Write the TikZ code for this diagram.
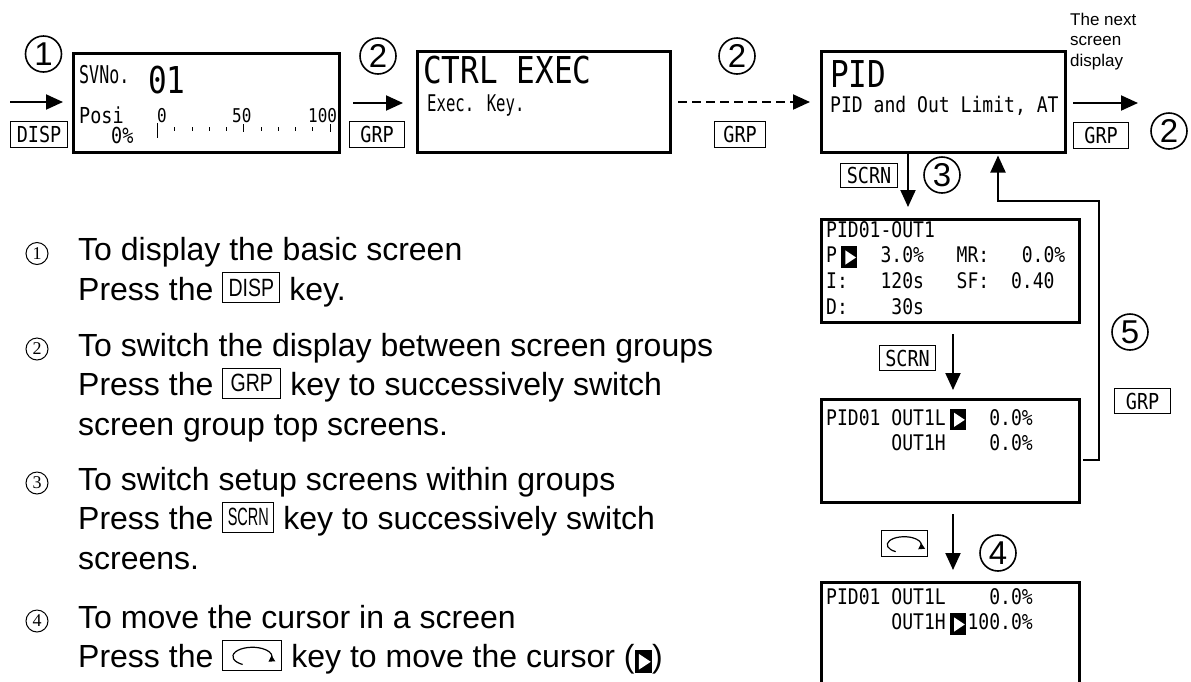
\documentclass[tikz,border=0pt]{standalone}
\usepackage{fontspec}
\setmainfont{Liberation Sans}
\newfontfamily\lcdfont[FakeStretch=0.84]{DejaVu Sans Mono}
\newfontfamily\lcdnarrow[FakeStretch=0.68]{DejaVu Sans Mono}
\newfontfamily\keyfont[FakeStretch=0.78]{Liberation Sans}
\newfontfamily\keynarrow[FakeStretch=0.58]{Liberation Sans}
\newfontfamily\numfont{Liberation Serif}
\usepackage{tikz}
\usetikzlibrary{positioning,arrows.meta,calc}

% cursor mark, loop key icon and framed key in running text
\newcommand\curglyph[1][1]{\tikz[baseline=0pt,x=1pt,y=1pt,scale=#1]{\fill[black] (0,-5) rectangle (16,16.5); \fill[white] (4,-1.7) -- (14.7,5.4) -- (4,12.5) -- cycle;}}
\newcommand\curs{\makebox[21.7pt][r]{\curglyph\hspace{1.4pt}}}
\newcommand\loopicon[1][1]{\tikz[baseline=0pt,x=1pt,y=1pt,scale=#1,line width=1.2pt]{\draw[-{Triangle[length=6pt,width=6.5pt]}] (240:17 and 8) arc[start angle=240,end angle=-35,x radius=17,y radius=8];}}
\newcommand\tkey[2][56pt]{{\setlength\fboxsep{0pt}\setlength\fboxrule{1.1pt}\raisebox{-2pt}{\fbox{\parbox[b][29pt][c]{#1}{\centering\keyfont\fontsize{25}{25}\selectfont #2}}}}}

\tikzset{
  screen/.style={draw, line width=3pt, inner sep=0pt, anchor=north west},
  keybox/.style={draw, line width=1.2pt, inner sep=0pt, anchor=north west, minimum height=26pt, font=\lcdfont\fontsize{22}{22}\selectfont},
  bignum/.style={circle, draw, line width=1.6pt, minimum size=36pt, inner sep=0pt, font=\fontsize{33}{33}\selectfont},
  itemnum/.style={circle, draw, line width=1pt, minimum size=22pt, inner sep=0pt, font=\numfont\fontsize{18}{18}\selectfont},
  itemtext/.style={anchor=north west, inner sep=0pt, align=left, font=\fontsize{32}{39.5}\selectfont},
  lcd/.style={anchor=north west, inner sep=0pt, align=left, font=\lcdfont\fontsize{21.5}{25.7}\selectfont},
  lcdlbl/.style={anchor=base west, inner sep=0pt},
  flow/.style={line width=2pt, -{Triangle[length=17pt,width=15pt]}},
}

\begin{document}
\begin{tikzpicture}[x=1pt,y=-1pt]
  \clip (0,0) rectangle (1191,681);
  \fill[white] (0,0) rectangle (1191,681);

  % top row of screens
  \node[screen, minimum width=266pt, minimum height=99pt] (basic) at (72,52) {};
  \node[lcdlbl, font=\lcdnarrow\fontsize{24.5}{24.5}\selectfont] (svlbl) at (79,83) {SVNo.};
  \node[lcdlbl, font=\lcdfont\fontsize{37}{37}\selectfont] (svval) at (148,93) {01};
  \node[lcdlbl, font=\lcdfont\fontsize{22}{22}\selectfont] (posi) at (79,123) {Posi};
  \node[lcdlbl, font=\lcdfont\fontsize{22}{22}\selectfont] (posv) at (111,143) {0\%};
  \node[lcdlbl, font=\lcdfont\fontsize{19}{19}\selectfont] (sc0) at (157,122) {0};
  \node[lcdlbl, font=\lcdfont\fontsize{19}{19}\selectfont] (sc50) at (232,122) {50};
  \node[lcdlbl, font=\lcdfont\fontsize{19}{19}\selectfont] (sc100) at (308,122) {100};
  \foreach \i in {1,...,9} \draw[line width=1pt] ({157.5+17.25*\i},127) -- ({157.5+17.25*\i},131);
  \foreach \i in {5,10} \draw[line width=1pt] ({157.5+17.25*\i},124) -- ({157.5+17.25*\i},131.5);
  \draw[line width=1pt] (157.5,123) -- (157.5,138);

  \node[screen, minimum width=253pt, minimum height=101pt] (exec) at (416,50) {};
  \node[lcdlbl, font=\lcdfont\fontsize{37}{37}\selectfont] (exectitle) at (423,83) {CTRL EXEC};
  \node[lcdlbl, font=\lcdnarrow\fontsize{23}{23}\selectfont] (execsub) at (427,111) {Exec. Key.};

  \node[screen, minimum width=244pt, minimum height=101pt] (pidtop) at (820,50) {};
  \node[lcdlbl, font=\lcdfont\fontsize{37}{37}\selectfont] (pidtitle) at (830,87) {PID};
  \node[lcdlbl, font=\lcdfont\fontsize{21.5}{21.5}\selectfont] (pidsub) at (830,112) {PID and Out Limit, AT};

  % setup screens of the PID group
  \node[screen, minimum width=258pt, minimum height=103pt] (pidout) at (820,218) {};
  \node[lcd] (pidouttxt) at (826,219) {\rule{0pt}{18pt}PID01-OUT1\\P\curs~~3.0\%~~~MR:~~~0.0\%\\I:~~~120s~~~SF:~~0.40\\D:~~~~30s};
  \node[screen, minimum width=258pt, minimum height=103pt] (limit) at (820,398) {};
  \node[lcd] (limittxt) at (826,407) {\rule{0pt}{18pt}PID01~OUT1L\curs~~0.0\%\\~~~~~~OUT1H~~~~0.0\%};
  \node[screen, minimum width=258pt, minimum height=110pt] (limit2) at (820,581) {};
  \node[lcd] (limit2txt) at (826,586) {\rule{0pt}{18pt}PID01~OUT1L~~~~0.0\%\\~~~~~~OUT1H\curs100.0\%};

  % keys
  \node[keybox, minimum width=57pt] (kdisp) at (10,121) {DISP};
  \node[keybox, minimum width=55pt] (kgrpa) at (349,121) {GRP};
  \node[keybox, minimum width=51pt] (kgrpb) at (714,121) {GRP};
  \node[keybox, minimum width=55pt] (kgrpc) at (1073,122) {GRP};
  \node[keybox, minimum width=57pt, minimum height=24pt] (kscrna) at (840,163) {SCRN};
  \node[keybox, minimum width=56pt, minimum height=25pt] (kscrnb) at (879,345) {SCRN};
  \node[keybox, minimum width=56pt, minimum height=25pt] (kgrpd) at (1114,388) {GRP};
  \node[keybox, minimum width=46pt] (kloop) at (881,530) {\loopicon};

  \node[bignum] (s1) at (43.5,54) {1};
  \node[bignum] (s2a) at (378,56) {2};
  \node[bignum] (s2b) at (737,56) {2};
  \node[bignum] (s2c) at (1169,131) {2};
  \node[bignum] (s3) at (942,175) {3};
  \node[bignum] (s4) at (998,553) {4};
  \node[bignum] (s5) at (1130,332) {5};

  \node[anchor=north west, inner sep=0pt, align=left, font=\fontsize{17}{20.5}\selectfont] (nexttxt) at (1070,12) {\rule{0pt}{13pt}The next\\screen\\display};

  % connectors
  \coordinate (start) at (10,102);
  \draw[flow, shorten >=9pt] (start) -- (start -| basic.west);
  \draw[flow, shorten <=12pt, shorten >=13pt] (basic.east) -- (basic.east -| exec.west);
  \draw[flow, dashed, dash pattern=on 9pt off 5pt, shorten <=6pt, shorten >=10pt] (exec.east) -- (exec.east -| pidtop.west);
  \coordinate (next) at (1138,103);
  \draw[flow, shorten <=6pt] (next -| pidtop.east) -- (next);
  \coordinate (drop) at (908,0);
  \draw[flow, shorten >=11pt] (drop |- pidtop.south) -- (drop |- pidout.north);
  \coordinate (drop2) at (953,0);
  \draw[flow, shorten <=10pt, shorten >=8pt] (drop2 |- pidout.south) -- (drop2 |- limit.north);
  \draw[flow, shorten <=10pt, shorten >=11pt] (drop2 |- limit.south) -- (drop2 |- limit2.north);
  \coordinate (ret) at (1083,460);
  \coordinate (rise) at (998,0);
  \draw[flow, shorten >=1.5pt] (ret) -| (1099,201) -| (rise |- pidtop.south);

  % explanations
  \node[itemnum] (n1) at (37,253.5) {1};
  \node[itemtext] (t1) at (78,236.5) {\rule{0pt}{24pt}To display the basic screen\\Press the \tkey{DISP} key.};
  \node[itemnum] (n2) at (37,349) {2};
  \node[itemtext] (t2) at (78,332) {\rule{0pt}{24pt}To switch the display between screen groups\\Press the \tkey[57pt]{GRP} key to successively switch\\screen group top screens.};
  \node[itemnum] (n3) at (37,483) {3};
  \node[itemtext] (t3) at (78,466) {\rule{0pt}{24pt}To switch setup screens within groups\\Press the \tkey[50pt]{\keynarrow SCRN} key to successively switch\\screens.};
  \node[itemnum] (n4) at (37,621) {4};
  \node[itemtext] (t4) at (78,604) {\rule{0pt}{24pt}To move the cursor in a screen\\Press the \tkey[58pt]{\loopicon[1.15]} key to move the cursor (\curglyph[1.1])};
\end{tikzpicture}
\end{document}
